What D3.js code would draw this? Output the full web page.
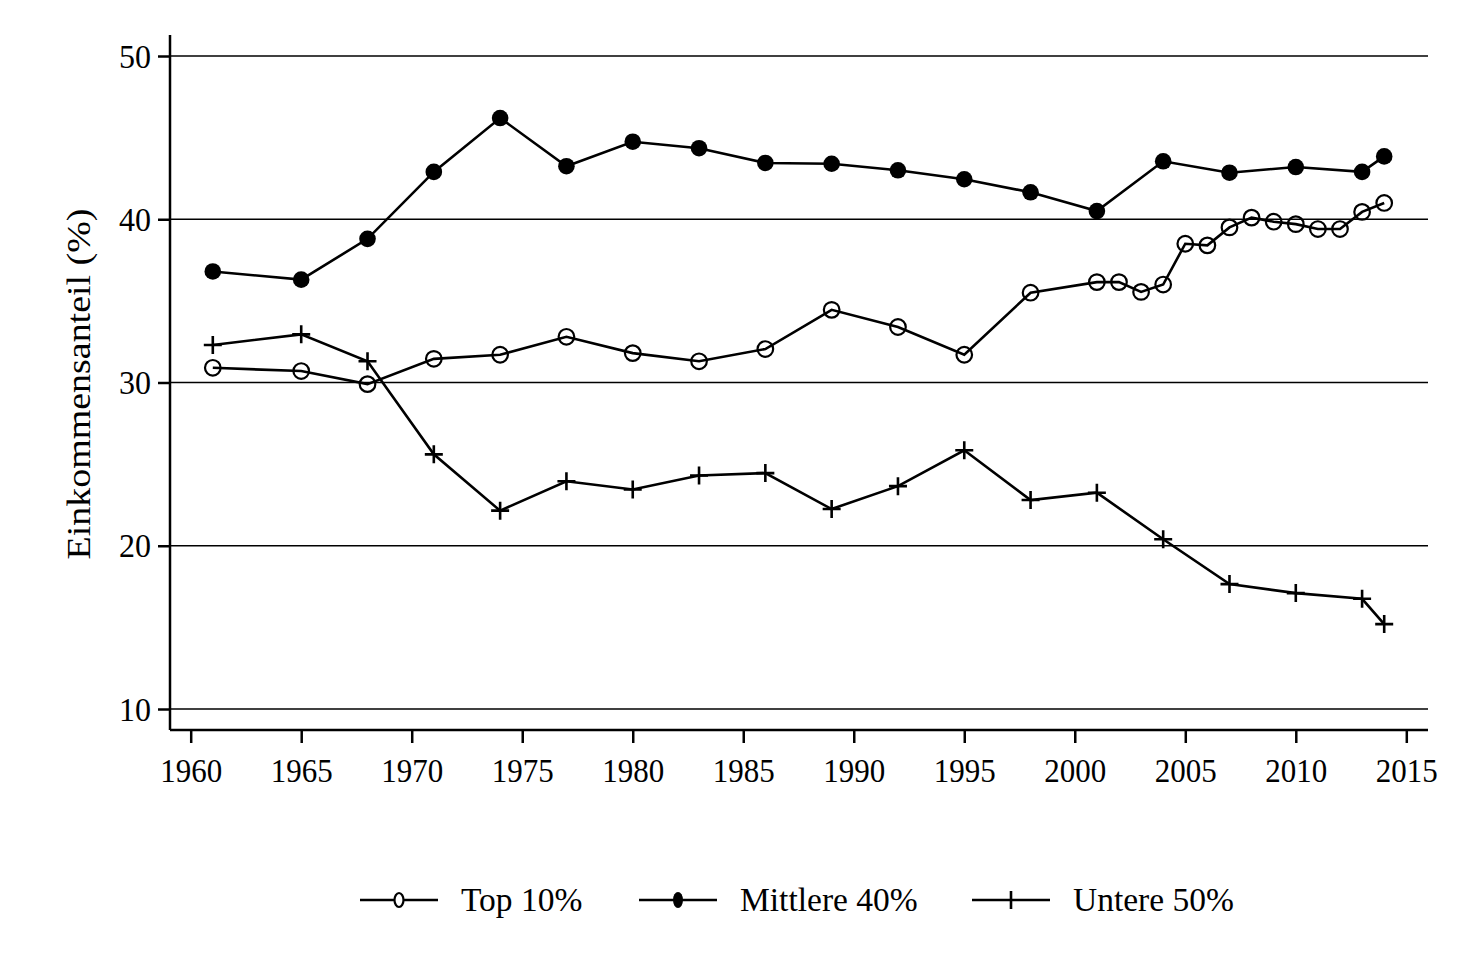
<!DOCTYPE html>
<html>
<head>
<meta charset="utf-8">
<script src="https://cdn.jsdelivr.net/npm/d3@7"></script>
<style>
  body { margin: 0; background: #fff; }
  svg text { font-family: "Liberation Serif", "Times New Roman", serif; fill: #000; }
</style>
</head>
<body>
<svg id="canvas" width="1463" height="975"></svg>
<script>
const yearsTop = [1961, 1965, 1968, 1971, 1974, 1977, 1980, 1983, 1986, 1989, 1992, 1995, 1998,
  2001, 2002, 2003, 2004, 2005, 2006, 2007, 2008, 2009, 2010, 2011, 2012, 2013, 2014];
const top10 = [30.9, 30.7, 29.9, 31.45, 31.7, 32.8, 31.8, 31.3, 32.05, 34.45, 33.4, 31.7, 35.5,
  36.15, 36.15, 35.55, 36.0, 38.5, 38.4, 39.5, 40.1, 39.85, 39.7, 39.4, 39.4, 40.45, 41.0];

const yearsRest = [1961, 1965, 1968, 1971, 1974, 1977, 1980, 1983, 1986, 1989, 1992, 1995, 1998,
  2001, 2004, 2007, 2010, 2013, 2014];
const middle40 = [36.8, 36.3, 38.8, 42.9, 46.2, 43.25, 44.75, 44.35, 43.45, 43.4, 43.0, 42.45, 41.65,
  40.5, 43.55, 42.85, 43.2, 42.9, 43.85];
const bottom50 = [32.3, 32.95, 31.3, 25.6, 22.15, 23.95, 23.45, 24.3, 24.45, 22.25, 23.65, 25.85, 22.8,
  23.25, 20.4, 17.65, 17.1, 16.75, 15.2];

const xTicks = [1960, 1965, 1970, 1975, 1980, 1985, 1990, 1995, 2000, 2005, 2010, 2015];
const yTicks = [10, 20, 30, 40, 50];
const legendLabels = ["Top 10%", "Mittlere 40%", "Untere 50%"];
const yLabel = "Einkommensanteil (%)";

const svg = d3.select("#canvas");

const x = d3.scaleLinear().domain([1960, 2015]).range([190.7, 1406.3]);
const y = d3.scaleLinear().domain([10, 50]).range([709, 56]);

// gridlines
svg.append("g")
  .selectAll("line")
  .data(yTicks)
  .join("line")
  .attr("x1", 170).attr("x2", 1428)
  .attr("y1", d => y(d)).attr("y2", d => y(d))
  .attr("stroke", "#000").attr("stroke-width", 1.3);

// axes
const yAxis = svg.append("g")
  .attr("transform", "translate(170,0)")
  .call(d3.axisLeft(y).tickValues(yTicks).tickSize(12).tickPadding(7));
yAxis.select(".domain").attr("d", "M0,35V730").attr("stroke-width", 2.5);
yAxis.selectAll(".tick line").attr("stroke-width", 2.5);
yAxis.selectAll(".tick text")
  .attr("font-size", 32).attr("dy", null).attr("y", 0)
  .attr("transform", "translate(0,11) scale(1,1.08)");

const xAxis = svg.append("g")
  .attr("transform", "translate(0,730)")
  .call(d3.axisBottom(x).tickValues(xTicks).tickFormat(d3.format("d")).tickSize(13).tickPadding(10));
xAxis.select(".domain").attr("d", "M170,0H1428").attr("stroke-width", 2.5);
xAxis.selectAll(".tick line").attr("stroke-width", 2.5);
xAxis.selectAll(".tick text")
  .attr("font-size", 31).attr("dy", null).attr("y", 0)
  .attr("transform", "translate(0,52) scale(1,1.1)");

svg.append("text")
  .attr("transform", "translate(90,384) rotate(-90) scale(1.15,1)")
  .attr("text-anchor", "middle")
  .attr("font-size", 33)
  .text(yLabel);

const line = d3.line().x(d => x(d[0])).y(d => y(d[1]));

const series = [
  { name: legendLabels[0], data: d3.zip(yearsTop, top10), marker: "open" },
  { name: legendLabels[1], data: d3.zip(yearsRest, middle40), marker: "filled" },
  { name: legendLabels[2], data: d3.zip(yearsRest, bottom50), marker: "plus" }
];

function drawMarker(g, kind) {
  if (kind === "open") {
    g.append("circle").attr("r", 7.8).attr("fill", "none").attr("stroke", "#000").attr("stroke-width", 2.2);
  } else if (kind === "filled") {
    g.append("circle").attr("r", 8.3).attr("fill", "#000");
  } else {
    g.append("path").attr("d", "M-9,0H9M0,-9V9")
      .attr("stroke", "#000").attr("stroke-width", 2.6);
  }
}

series.forEach(s => {
  svg.append("path")
    .datum(s.data)
    .attr("d", line)
    .attr("fill", "none")
    .attr("stroke", "#000")
    .attr("stroke-width", 2.6);

  svg.append("g")
    .selectAll("g")
    .data(s.data)
    .join("g")
    .attr("transform", d => `translate(${x(d[0])},${y(d[1])})`)
    .each(function () { drawMarker(d3.select(this), s.marker); });
});

// legend
const legendX = [360, 639, 972];
series.forEach((s, i) => {
  const g = svg.append("g").attr("transform", `translate(${legendX[i]},900)`);
  g.append("line").attr("x1", 0).attr("x2", 78).attr("stroke", "#000").attr("stroke-width", 2.6);
  const m = g.append("g").attr("transform", "translate(39,0)");
  if (s.marker === "plus") {
    m.append("path").attr("d", "M0,-9V9").attr("stroke", "#000").attr("stroke-width", 2.6);
  } else if (s.marker === "open") {
    m.append("ellipse").attr("rx", 4.5).attr("ry", 7).attr("fill", "#fff").attr("stroke", "#000").attr("stroke-width", 2.2);
  } else {
    m.append("ellipse").attr("rx", 5).attr("ry", 8).attr("fill", "#000");
  }
  g.append("text").attr("x", 101).attr("y", 11).attr("font-size", 33.5).text(s.name);
});
</script>
</body>
</html>
